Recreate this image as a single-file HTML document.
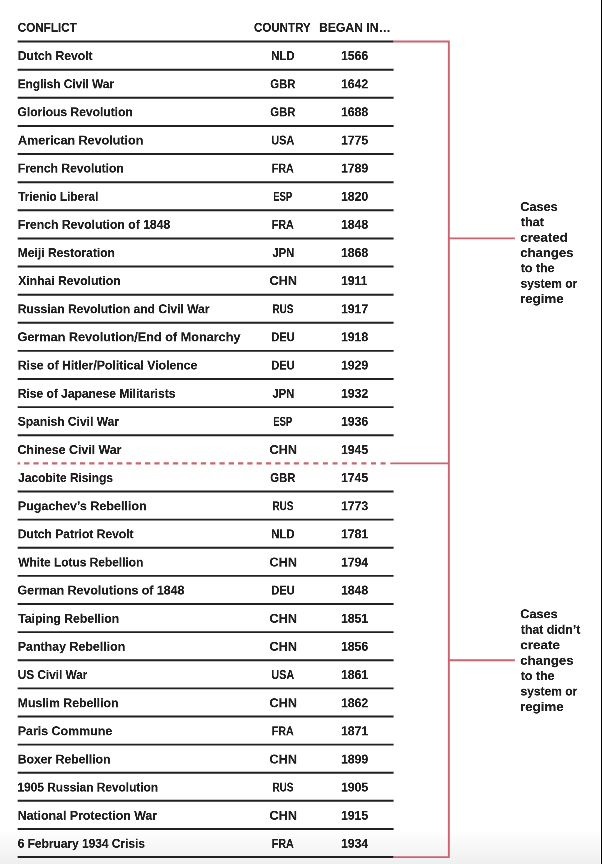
<!DOCTYPE html>
<html><head><meta charset="utf-8"><title>Conflicts</title>
<style>
html,body{margin:0;padding:0;}
body{width:602px;height:864px;overflow:hidden;position:relative;background:#fff;}
.bg{position:absolute;left:0;top:0;width:600px;height:864px;
 background:linear-gradient(to bottom,#fff 0,#fff 829px,#efefef 864px);}
.edge{position:absolute;left:601px;top:0;width:1px;height:864px;background:#000;}
/* everything is laid out at 4x and scaled down so text lands on quarter-pixel positions */
.x4{position:absolute;left:0;top:0;width:2408px;height:3456px;transform:scale(.25);transform-origin:0 0;will-change:transform;
 font-family:"Liberation Sans",sans-serif;font-weight:bold;color:#211f20;font-size:50px;-webkit-text-stroke:0.8px #211f20;filter:blur(1.4px);}
.t{position:absolute;white-space:nowrap;line-height:56px;height:56px;transform-origin:0 0;}
svg{position:absolute;left:0;top:0;filter:blur(0.35px);}
</style></head><body>
<div class="bg"></div><div class="edge"></div>
<svg width="602" height="864" viewBox="0 0 602 864">
<g fill="none" stroke="#222021" stroke-width="1.95">
<path d="M17.65 41.55H393.6M17.65 69.67H393.6M17.65 97.79H393.6M17.65 125.92H393.6M17.65 154.04H393.6M17.65 182.16H393.6M17.65 210.28H393.6M17.65 238.40H393.6M17.65 266.53H393.6M17.65 294.65H393.6M17.65 322.77H393.6M17.65 350.89H393.6M17.65 379.01H393.6M17.65 407.14H393.6M17.65 435.26H393.6M17.65 491.50H393.6M17.65 519.62H393.6M17.65 547.75H393.6M17.65 575.87H393.6M17.65 603.99H393.6M17.65 632.11H393.6M17.65 660.23H393.6M17.65 688.36H393.6M17.65 716.48H393.6M17.65 744.60H393.6M17.65 772.72H393.6M17.65 800.84H393.6M17.65 828.97H393.6M17.65 857.09H393.6"/>
</g>
<g fill="none" stroke="#c96470" stroke-width="1.9">
<path d="M393.6 41.55H448.85V857.09H393.6"/>
<path d="M390.3 463.38H448.85"/>
<path d="M448.85 238.35H514.9"/>
<path d="M448.85 660.25H514.9"/>
<path d="M17.65 463.38H299.6" stroke-dasharray="5.3 4" stroke-dashoffset="2.85" stroke-width="2.1"/>
<path d="M303.65 463.38H390" stroke-dasharray="5 4.62" stroke-width="2.1"/>
</g></svg>
<div class="x4">
<div class="t" style="left:70.9px;top:82.4px;transform:scaleX(0.9339)">CONFLICT</div>
<div class="t" style="left:1016.2px;top:82.4px;transform:scaleX(0.9235)">COUNTRY</div>
<div class="t" style="left:1276.3px;top:82.4px;transform:scaleX(0.9748)">BEGAN IN…</div>
<div class="t" style="left:70.7px;top:195.0px;transform:scaleX(0.9705)">Dutch Revolt</div>
<div class="t" style="left:1084.9px;top:195.0px;transform:scaleX(0.9061)">NLD</div>
<div class="t" style="left:1364.3px;top:195.0px;transform:scaleX(0.9757)">1566</div>
<div class="t" style="left:70.8px;top:307.5px;transform:scaleX(0.9469)">English Civil War</div>
<div class="t" style="left:1081.4px;top:307.5px;transform:scaleX(0.9037)">GBR</div>
<div class="t" style="left:1364.3px;top:307.5px;transform:scaleX(0.9757)">1642</div>
<div class="t" style="left:69.9px;top:420.1px;transform:scaleX(0.9653)">Glorious Revolution</div>
<div class="t" style="left:1081.4px;top:420.1px;transform:scaleX(0.9037)">GBR</div>
<div class="t" style="left:1364.3px;top:420.1px;transform:scaleX(0.9757)">1688</div>
<div class="t" style="left:71.8px;top:532.6px;transform:scaleX(1.0024)">American Revolution</div>
<div class="t" style="left:1085.0px;top:532.6px;transform:scaleX(0.8706)">USA</div>
<div class="t" style="left:1364.3px;top:532.6px;transform:scaleX(0.9757)">1775</div>
<div class="t" style="left:70.7px;top:645.2px;transform:scaleX(0.9663)">French Revolution</div>
<div class="t" style="left:1087.0px;top:645.2px;transform:scaleX(0.8566)">FRA</div>
<div class="t" style="left:1364.3px;top:645.2px;transform:scaleX(0.9757)">1789</div>
<div class="t" style="left:72.8px;top:757.7px;transform:scaleX(0.9369)">Trienio Liberal</div>
<div class="t" style="left:1093.3px;top:757.7px;transform:scaleX(0.7583)">ESP</div>
<div class="t" style="left:1364.3px;top:757.7px;transform:scaleX(0.9757)">1820</div>
<div class="t" style="left:70.7px;top:870.3px;transform:scaleX(0.9758)">French Revolution of 1848</div>
<div class="t" style="left:1087.0px;top:870.3px;transform:scaleX(0.8566)">FRA</div>
<div class="t" style="left:1364.3px;top:870.3px;transform:scaleX(0.9757)">1848</div>
<div class="t" style="left:70.7px;top:982.8px;transform:scaleX(0.9652)">Meiji Restoration</div>
<div class="t" style="left:1090.0px;top:982.8px;transform:scaleX(0.8936)">JPN</div>
<div class="t" style="left:1364.3px;top:982.8px;transform:scaleX(0.9757)">1868</div>
<div class="t" style="left:72.8px;top:1095.4px;transform:scaleX(0.9695)">Xinhai Revolution</div>
<div class="t" style="left:1077.6px;top:1095.4px;transform:scaleX(1.0175)">CHN</div>
<div class="t" style="left:1364.3px;top:1095.4px;transform:scaleX(0.9757)">1911</div>
<div class="t" style="left:70.7px;top:1207.9px;transform:scaleX(0.9641)">Russian Revolution and Civil War</div>
<div class="t" style="left:1089.6px;top:1207.9px;transform:scaleX(0.7921)">RUS</div>
<div class="t" style="left:1364.3px;top:1207.9px;transform:scaleX(0.9757)">1917</div>
<div class="t" style="left:69.8px;top:1320.4px;transform:scaleX(1.0127)">German Revolution/End of Monarchy</div>
<div class="t" style="left:1084.9px;top:1320.4px;transform:scaleX(0.8880)">DEU</div>
<div class="t" style="left:1364.3px;top:1320.4px;transform:scaleX(0.9757)">1918</div>
<div class="t" style="left:70.7px;top:1433.0px;transform:scaleX(0.9808)">Rise of Hitler/Political Violence</div>
<div class="t" style="left:1084.9px;top:1433.0px;transform:scaleX(0.8880)">DEU</div>
<div class="t" style="left:1364.3px;top:1433.0px;transform:scaleX(0.9757)">1929</div>
<div class="t" style="left:70.7px;top:1545.5px;transform:scaleX(0.9616)">Rise of Japanese Militarists</div>
<div class="t" style="left:1090.0px;top:1545.5px;transform:scaleX(0.8936)">JPN</div>
<div class="t" style="left:1364.3px;top:1545.5px;transform:scaleX(0.9757)">1932</div>
<div class="t" style="left:70.8px;top:1658.1px;transform:scaleX(0.9628)">Spanish Civil War</div>
<div class="t" style="left:1093.3px;top:1658.1px;transform:scaleX(0.7583)">ESP</div>
<div class="t" style="left:1364.3px;top:1658.1px;transform:scaleX(0.9757)">1936</div>
<div class="t" style="left:69.8px;top:1770.6px;transform:scaleX(0.9890)">Chinese Civil War</div>
<div class="t" style="left:1077.6px;top:1770.6px;transform:scaleX(1.0175)">CHN</div>
<div class="t" style="left:1364.3px;top:1770.6px;transform:scaleX(0.9757)">1945</div>
<div class="t" style="left:72.8px;top:1883.2px;transform:scaleX(0.9535)">Jacobite Risings</div>
<div class="t" style="left:1081.4px;top:1883.2px;transform:scaleX(0.9037)">GBR</div>
<div class="t" style="left:1364.3px;top:1883.2px;transform:scaleX(0.9757)">1745</div>
<div class="t" style="left:70.6px;top:1995.7px;transform:scaleX(1.0012)">Pugachev’s Rebellion</div>
<div class="t" style="left:1089.6px;top:1995.7px;transform:scaleX(0.7921)">RUS</div>
<div class="t" style="left:1364.3px;top:1995.7px;transform:scaleX(0.9757)">1773</div>
<div class="t" style="left:70.7px;top:2108.2px;transform:scaleX(0.9635)">Dutch Patriot Revolt</div>
<div class="t" style="left:1084.9px;top:2108.2px;transform:scaleX(0.9061)">NLD</div>
<div class="t" style="left:1364.3px;top:2108.2px;transform:scaleX(0.9757)">1781</div>
<div class="t" style="left:72.8px;top:2220.8px;transform:scaleX(0.9525)">White Lotus Rebellion</div>
<div class="t" style="left:1077.6px;top:2220.8px;transform:scaleX(1.0175)">CHN</div>
<div class="t" style="left:1364.3px;top:2220.8px;transform:scaleX(0.9757)">1794</div>
<div class="t" style="left:69.8px;top:2333.3px;transform:scaleX(0.9884)">German Revolutions of 1848</div>
<div class="t" style="left:1084.9px;top:2333.3px;transform:scaleX(0.8880)">DEU</div>
<div class="t" style="left:1364.3px;top:2333.3px;transform:scaleX(0.9757)">1848</div>
<div class="t" style="left:72.8px;top:2445.9px;transform:scaleX(0.9776)">Taiping Rebellion</div>
<div class="t" style="left:1077.6px;top:2445.9px;transform:scaleX(1.0175)">CHN</div>
<div class="t" style="left:1364.3px;top:2445.9px;transform:scaleX(0.9757)">1851</div>
<div class="t" style="left:70.6px;top:2558.4px;transform:scaleX(0.9925)">Panthay Rebellion</div>
<div class="t" style="left:1077.6px;top:2558.4px;transform:scaleX(1.0175)">CHN</div>
<div class="t" style="left:1364.3px;top:2558.4px;transform:scaleX(0.9757)">1856</div>
<div class="t" style="left:70.8px;top:2671.0px;transform:scaleX(0.9425)">US Civil War</div>
<div class="t" style="left:1085.0px;top:2671.0px;transform:scaleX(0.8706)">USA</div>
<div class="t" style="left:1364.3px;top:2671.0px;transform:scaleX(0.9757)">1861</div>
<div class="t" style="left:70.7px;top:2783.5px;transform:scaleX(0.9798)">Muslim Rebellion</div>
<div class="t" style="left:1077.6px;top:2783.5px;transform:scaleX(1.0175)">CHN</div>
<div class="t" style="left:1364.3px;top:2783.5px;transform:scaleX(0.9757)">1862</div>
<div class="t" style="left:70.6px;top:2896.1px;transform:scaleX(0.9926)">Paris Commune</div>
<div class="t" style="left:1087.0px;top:2896.1px;transform:scaleX(0.8566)">FRA</div>
<div class="t" style="left:1364.3px;top:2896.1px;transform:scaleX(0.9757)">1871</div>
<div class="t" style="left:70.7px;top:3008.6px;transform:scaleX(0.9739)">Boxer Rebellion</div>
<div class="t" style="left:1077.6px;top:3008.6px;transform:scaleX(1.0175)">CHN</div>
<div class="t" style="left:1364.3px;top:3008.6px;transform:scaleX(0.9757)">1899</div>
<div class="t" style="left:69.9px;top:3121.1px;transform:scaleX(0.9502)">1905 Russian Revolution</div>
<div class="t" style="left:1089.6px;top:3121.1px;transform:scaleX(0.7921)">RUS</div>
<div class="t" style="left:1364.3px;top:3121.1px;transform:scaleX(0.9757)">1905</div>
<div class="t" style="left:70.6px;top:3233.7px;transform:scaleX(0.9865)">National Protection War</div>
<div class="t" style="left:1077.6px;top:3233.7px;transform:scaleX(1.0175)">CHN</div>
<div class="t" style="left:1364.3px;top:3233.7px;transform:scaleX(0.9757)">1915</div>
<div class="t" style="left:70.8px;top:3346.2px;transform:scaleX(0.9533)">6 February 1934 Crisis</div>
<div class="t" style="left:1087.0px;top:3346.2px;transform:scaleX(0.8566)">FRA</div>
<div class="t" style="left:1364.3px;top:3346.2px;transform:scaleX(0.9757)">1934</div>
<div class="t" style="left:2080.8px;top:798.8px;transform:scaleX(1.0167)">Cases</div>
<div class="t" style="left:2082.8px;top:860.2px;transform:scaleX(1.0066)">that</div>
<div class="t" style="left:2080.7px;top:921.5px;transform:scaleX(1.0705)">created</div>
<div class="t" style="left:2080.7px;top:982.9px;transform:scaleX(1.0492)">changes</div>
<div class="t" style="left:2082.8px;top:1044.2px;transform:scaleX(0.9896)">to the</div>
<div class="t" style="left:2081.8px;top:1105.6px;transform:scaleX(0.9617)">system or</div>
<div class="t" style="left:2079.6px;top:1167.0px;transform:scaleX(1.0650)">regime</div>
<div class="t" style="left:2080.8px;top:2428.4px;transform:scaleX(1.0167)">Cases</div>
<div class="t" style="left:2082.8px;top:2490.2px;transform:scaleX(0.9876)">that didn’t</div>
<div class="t" style="left:2080.6px;top:2551.9px;transform:scaleX(1.0778)">create</div>
<div class="t" style="left:2080.7px;top:2613.7px;transform:scaleX(1.0492)">changes</div>
<div class="t" style="left:2082.8px;top:2675.4px;transform:scaleX(0.9896)">to the</div>
<div class="t" style="left:2081.8px;top:2737.2px;transform:scaleX(0.9617)">system or</div>
<div class="t" style="left:2079.6px;top:2799.0px;transform:scaleX(1.0650)">regime</div>
</div>
</body></html>
